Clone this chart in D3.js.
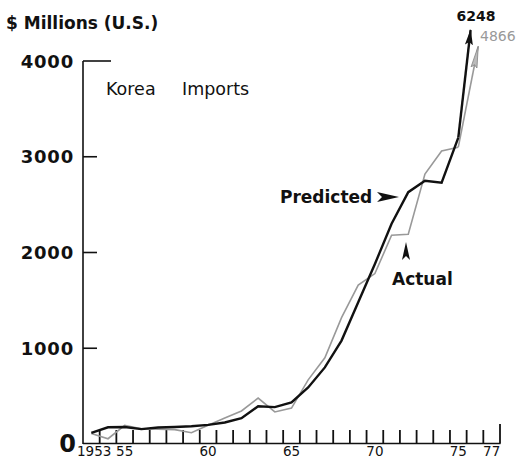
<!DOCTYPE html>
<html>
<head>
<meta charset="utf-8">
<script src="https://cdn.jsdelivr.net/npm/d3@7"></script>
<style>
  html, body { margin: 0; padding: 0; background: #fff; }
  svg { display: block; }
  text { font-family: "DejaVu Sans", "Liberation Sans", sans-serif; fill: #111; }
</style>
</head>
<body>
<svg id="chart" width="516" height="460"></svg>
<script>
// Korea imports, $ millions (U.S.): model prediction vs. actual
const years     = [1953,1954,1955,1956,1957,1958,1959,1960,1961,1962,1963,1964,1965,1966,1967,1968,1969,1970,1971,1972,1973,1974,1975,1977];
const predicted = [115, 175, 178, 155, 172, 178, 185, 200, 225, 270, 395, 385, 435, 590, 800, 1080, 1480, 1880, 2300, 2630, 2750, 2730, 3200, 6248];
const actual    = [110,  55, 195, 160, 155, 150, 118, 195, 272, 345, 480, 335, 375, 670, 900, 1320, 1660, 1780, 2180, 2190, 2820, 3060, 3100, 4866];

const axisYears   = d3.range(1953, 1978);
const labelYears  = [1953, 1955, 1960, 1965, 1970, 1975, 1977];
const labelText   = ["1953", "55", "60", "65", "70", "75", "77"];
const yTickValues = [1000, 2000, 3000, 4000];

const svg = d3.select("#chart");

const x = d3.scaleBand().domain(axisYears).range([83, 500]).padding(0);
const bw = x.bandwidth();
const cx = yr => x(yr) + bw / 2;
const y = d3.scaleLinear().domain([0, 4000]).range([444, 61]);

// ---- axes ----
const axisG = svg.append("g").attr("stroke", "#111").attr("fill", "none");
axisG.append("line")
  .attr("x1", 83).attr("x2", 83)
  .attr("y1", y(0)).attr("y2", y(4000))
  .attr("stroke-width", 1.6);
axisG.append("line")
  .attr("x1", 83).attr("x2", 500.5)
  .attr("y1", 443.5).attr("y2", 443.5)
  .attr("stroke-width", 1.6);

axisG.selectAll("line.ytick").data(yTickValues).join("line")
  .attr("class", "ytick")
  .attr("x1", 83).attr("x2", d => d === 4000 ? 111 : 97)
  .attr("y1", d => y(d)).attr("y2", d => y(d))
  .attr("stroke-width", 1.6);

axisG.selectAll("line.xtick").data(axisYears).join("line")
  .attr("class", "xtick")
  .attr("x1", d => x(d) + bw).attr("x2", d => x(d) + bw)
  .attr("y1", 443.5).attr("y2", d => d === 1977 ? 424 : 430)
  .attr("stroke-width", 1.8);

svg.selectAll("text.ylab").data(yTickValues).join("text")
  .attr("class", "ylab")
  .attr("x", 74).attr("y", d => y(d) + 6.5)
  .attr("text-anchor", "end")
  .attr("font-size", 18).attr("font-weight", "bold")
  .attr("letter-spacing", 0.8)
  .text(d => d);

svg.append("text")
  .attr("x", 76).attr("y", 452)
  .attr("text-anchor", "end")
  .attr("font-size", 24).attr("font-weight", "bold")
  .text("0");

svg.selectAll("text.xlab").data(labelYears).join("text")
  .attr("class", "xlab")
  .attr("x", (d, i) => i === 0 ? 77 : cx(d))
  .attr("y", 456)
  .attr("text-anchor", (d, i) => i === 0 ? "start" : "middle")
  .attr("font-size", 13.5)
  .text((d, i) => labelText[i]);

// ---- titles ----
svg.append("text")
  .attr("x", 6).attr("y", 29)
  .attr("font-size", 17).attr("font-weight", "bold")
  .text("$ Millions (U.S.)");
svg.append("text").attr("x", 106).attr("y", 95).attr("font-size", 17.5).text("Korea");
svg.append("text").attr("x", 182).attr("y", 95).attr("font-size", 17.5).text("Imports");

// ---- arrow markers ----
const defs = svg.append("defs");
defs.append("marker")
  .attr("id", "headBlack").attr("viewBox", "0 0 16 10")
  .attr("refX", 15).attr("refY", 5)
  .attr("markerUnits", "userSpaceOnUse")
  .attr("markerWidth", 16).attr("markerHeight", 10)
  .attr("orient", "auto")
  .append("path").attr("d", "M0,1 L16,5 L0,9 L3,5 Z").attr("fill", "#111");
defs.append("marker")
  .attr("id", "headGray").attr("viewBox", "0 0 22 8")
  .attr("refX", 21).attr("refY", 4)
  .attr("markerUnits", "userSpaceOnUse")
  .attr("markerWidth", 22).attr("markerHeight", 8)
  .attr("orient", "auto")
  .append("path").attr("d", "M0,1 L22,4 L0,7 L3,4 Z")
  .attr("fill", "#bbb").attr("stroke", "#888").attr("stroke-width", 0.8);

// ---- series ----
const line = d3.line().x(d => cx(d.year)).y(d => y(d.value));

function drawSeries(values, color, width, marker, tipY) {
  const pts = years.map((yr, i) => ({ year: yr, value: values[i] }));
  const main = pts.slice(0, pts.length - 1);
  svg.append("path").datum(main)
    .attr("d", line)
    .attr("fill", "none").attr("stroke", color)
    .attr("stroke-width", width).attr("stroke-linejoin", "miter");
  // final segment runs off the top of the scale; end it in an arrowhead
  const a = main[main.length - 1], b = pts[pts.length - 1];
  const x0 = cx(a.year), y0 = y(a.value), x1 = cx(b.year), y1 = y(b.value);
  const t = (tipY - y0) / (y1 - y0);
  svg.append("line")
    .attr("x1", x0).attr("y1", y0)
    .attr("x2", x0 + t * (x1 - x0)).attr("y2", tipY)
    .attr("stroke", color).attr("stroke-width", width)
    .attr("marker-end", `url(#${marker})`);
  return b;
}

const lastActual = drawSeries(actual, "#999", 1.6, "headGray", 47);
const lastPred = drawSeries(predicted, "#111", 2.4, "headBlack", 30);

svg.append("text")
  .attr("x", 476).attr("y", 21)
  .attr("text-anchor", "middle")
  .attr("font-size", 14).attr("font-weight", "bold")
  .text(lastPred.value);
svg.append("text")
  .attr("x", 480).attr("y", 41)
  .attr("font-size", 14).style("fill", "#999")
  .text(lastActual.value);

// ---- series annotations ----
svg.append("text")
  .attr("x", 280).attr("y", 203)
  .attr("font-size", 17).attr("font-weight", "bold")
  .text("Predicted");
svg.append("path")
  .attr("d", "M399,197 L377,192 L382,197 L377,202 Z")
  .attr("fill", "#111");

svg.append("text")
  .attr("x", 392).attr("y", 285)
  .attr("font-size", 17).attr("font-weight", "bold")
  .text("Actual");
svg.append("path")
  .attr("d", "M406,242 L402,260 L406,256 L410,260 Z")
  .attr("fill", "#111");
</script>
</body>
</html>
